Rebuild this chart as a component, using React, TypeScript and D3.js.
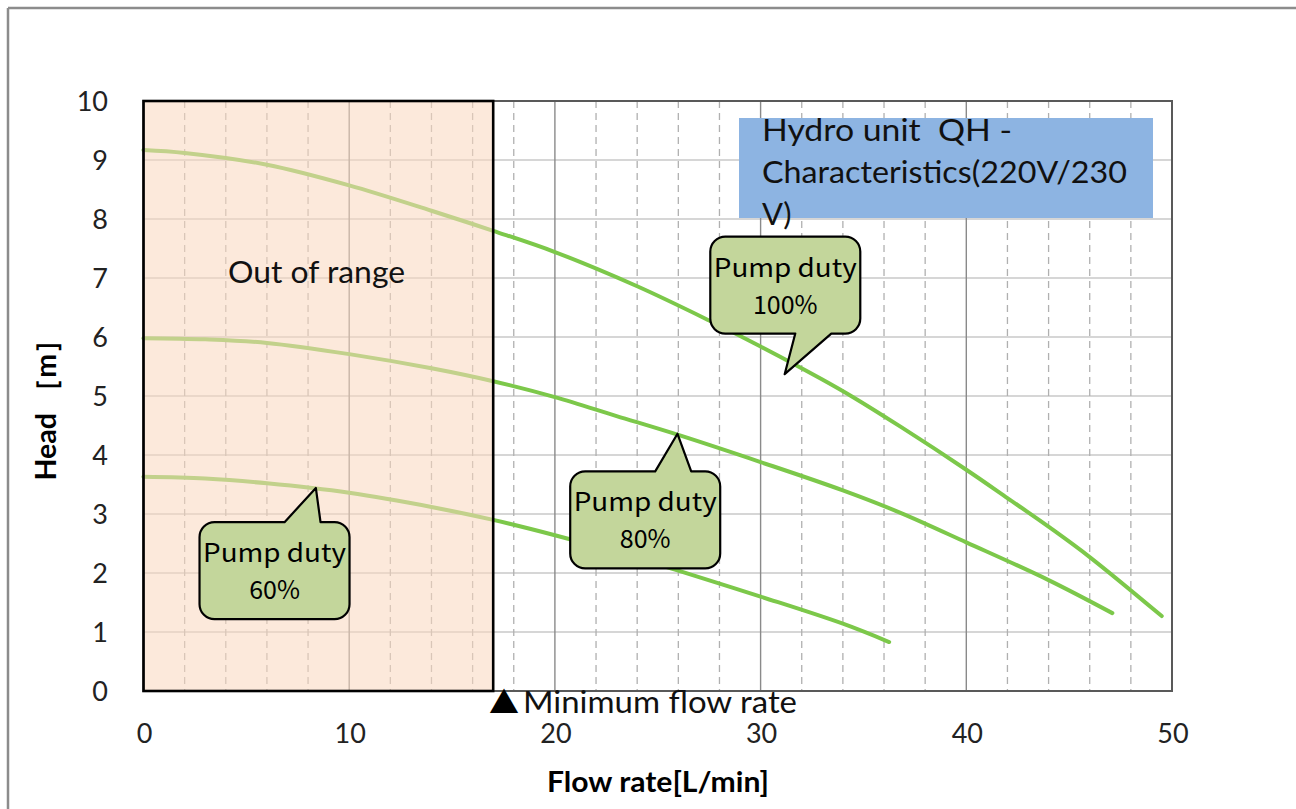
import React from "react";
import * as d3 from "d3";

// ---- data ----
const xTicks = [0, 10, 20, 30, 40, 50];
const yTicks = [0, 1, 2, 3, 4, 5, 6, 7, 8, 9, 10];

const flow100 = [0, 2, 6, 10, 14, 17, 20, 24, 27.5, 30, 33, 34.5, 36.8, 40, 42, 44.1, 46, 49.5];
const head100 = [9.17, 9.12, 8.92, 8.57, 8.14, 7.8, 7.44, 6.86, 6.28, 5.84, 5.28, 4.98, 4.48, 3.75, 3.27, 2.76, 2.27, 1.27];

const flow80 = [0, 3, 6, 10, 14, 17, 20, 23, 26, 30, 34, 36.8, 40, 44, 47.1];
const head80 = [5.98, 5.96, 5.9, 5.71, 5.47, 5.25, 4.98, 4.66, 4.34, 3.88, 3.4, 3.02, 2.52, 1.88, 1.32];

const flow60 = [0, 3, 6, 10, 14, 17, 20, 23, 26, 30, 34, 36.25];
const head60 = [3.63, 3.6, 3.52, 3.36, 3.12, 2.9, 2.64, 2.35, 2.04, 1.6, 1.14, 0.83];

const minFlow = 17;

const calloutLabels = ["100%", "80%", "60%"];
const calloutTipX = [31.17, 25.96, 8.38];
const calloutTipY = [5.37, 4.36, 3.44];
const calloutBoxX = [31.2, 24.39, 6.37];
const calloutBoxY = [6.88, 2.9, 2.04];

const titleLines = ["Hydro unit  QH -", "Characteristics(220V/230", "V)"];

// ---- layout ----
const W = 1296;
const H = 809;
const x = d3.scaleLinear().domain([0, 50]).range([143.5, 1172]);
const y = d3.scaleLinear().domain([0, 10]).range([691, 101]);

const LATIN = "Lato, 'Open Sans', sans-serif";
const CJK = "'Noto Sans CJK JP', 'Noto Sans', sans-serif";
const GREEN = "#7CC84A";

function calloutPath(x0: number, y0: number, x1: number, y1: number, r: number, side: "top" | "bottom", bx0: number, bx1: number, tx: number, ty: number) {
  let p = `M${x0 + r},${y0}`;
  if (side === "top") p += `L${bx0},${y0}L${tx},${ty}L${bx1},${y0}`;
  p += `L${x1 - r},${y0}A${r},${r} 0 0 1 ${x1},${y0 + r}`;
  p += `L${x1},${y1 - r}A${r},${r} 0 0 1 ${x1 - r},${y1}`;
  if (side === "bottom") p += `L${bx1},${y1}L${tx},${ty}L${bx0},${y1}`;
  p += `L${x0 + r},${y1}A${r},${r} 0 0 1 ${x0},${y1 - r}`;
  p += `L${x0},${y0 + r}A${r},${r} 0 0 1 ${x0 + r},${y0}Z`;
  return p;
}

export default function App() {
  const line = d3
    .line<[number, number]>()
    .x((d) => x(d[0]))
    .y((d) => y(d[1]))
    .curve(d3.curveCatmullRom.alpha(0.5));

  const series = [
    d3.zip(flow100, head100) as [number, number][],
    d3.zip(flow80, head80) as [number, number][],
    d3.zip(flow60, head60) as [number, number][],
  ];

  const minor = d3.range(2, 50, 2).filter((v) => v % 10 !== 0);
  const major = [10, 20, 30, 40];
  const hGrid = d3.range(1, 10);

  const [px0, px1] = x.range();
  const [py0, py1] = y.range(); // bottom, top

  const boxW = 150;
  const boxH = 97;

  return (
    <svg width={W} height={H} style={{ position: "absolute", left: 0, top: 0, background: "#fff" }}>
      <rect x={0} y={0} width={W} height={H} fill="#fff" />
      {/* outer frame */}
      <line x1={8} y1={8} x2={W} y2={8} stroke="#8c8c8c" strokeWidth={2.5} />
      <line x1={8} y1={8} x2={8} y2={H} stroke="#8c8c8c" strokeWidth={2.5} />

      {/* gridlines */}
      {hGrid.map((v) => (
        <line key={"h" + v} x1={px0} x2={px1} y1={y(v)} y2={y(v)} stroke="#c8c8c8" strokeWidth={1.6} />
      ))}
      {minor.map((v) => (
        <line key={"m" + v} x1={x(v)} x2={x(v)} y1={py1} y2={py0} stroke="#b0b0b0" strokeWidth={1.3} strokeDasharray="7,5" />
      ))}
      {major.map((v) => (
        <line key={"M" + v} x1={x(v)} x2={x(v)} y1={py1} y2={py0} stroke="#8a8a8a" strokeWidth={1.4} />
      ))}

      {/* curves */}
      {series.map((s, i) => (
        <path key={"s" + i} d={line(s) || ""} fill="none" stroke={GREEN} strokeWidth={4} strokeLinecap="round" />
      ))}

      {/* out of range overlay */}
      <rect x={x(0)} y={py1} width={x(minFlow) - x(0)} height={py0 - py1} fill="rgb(250,216,191)" fillOpacity={0.56} />

      {/* plot border */}
      <rect x={px0} y={py1} width={px1 - px0} height={py0 - py1} fill="none" stroke="#595959" strokeWidth={2} />
      <rect x={x(0)} y={py1} width={x(minFlow) - x(0)} height={py0 - py1} fill="none" stroke="#000" strokeWidth={2.6} />

      <text x={228} y={283} fontFamily={LATIN} fontSize={30} textLength={177} lengthAdjust="spacingAndGlyphs" fill="#111">
        Out of range
      </text>

      {/* title box */}
      <rect x={739} y={118} width={414} height={100} fill="#8DB4E2" />
      {titleLines.map((t, i) => (
        <text
          key={"t" + i}
          x={762}
          y={141 + i * 42}
          fontFamily={LATIN}
          fontSize={31}
          fill="#111"
          style={{ whiteSpace: "pre" }}
          {...(i === 0 ? { textLength: 250, lengthAdjust: "spacingAndGlyphs" } : {})}
          {...(i === 1 ? { textLength: 365, lengthAdjust: "spacingAndGlyphs" } : {})}
        >
          {t}
        </text>
      ))}

      {/* callouts */}
      {calloutLabels.map((lab, i) => {
        const cx = x(calloutBoxX[i]);
        const cy = y(calloutBoxY[i]);
        const tx = x(calloutTipX[i]);
        const ty = y(calloutTipY[i]);
        const x0 = cx - boxW / 2;
        const y0 = cy - boxH / 2;
        const side = ty < y0 ? "top" : "bottom";
        const bx0 = cx + 10;
        const bx1 = cx + 46;
        return (
          <g key={"c" + i}>
            <path
              d={calloutPath(x0, y0, x0 + boxW, y0 + boxH, 15, side, bx0, bx1, tx, ty)}
              fill="#C3D69B"
              stroke="#000"
              strokeWidth={2.2}
              strokeLinejoin="round"
            />
            <text x={cx} y={y0 + 40} textAnchor="middle" fontFamily={CJK} fontSize={25} fill="#000" textLength={143} lengthAdjust="spacingAndGlyphs">
              Pump duty
            </text>
            <text x={cx} y={y0 + 77} textAnchor="middle" fontFamily={CJK} fontSize={25} fill="#000">
              {lab}
            </text>
          </g>
        );
      })}

      {/* minimum flow marker */}
      <text x={489} y={713} fontFamily={CJK} fontSize={30} fill="#000">
        ▲
      </text>
      <text x={523} y={713} fontFamily={LATIN} fontSize={30} fill="#111" textLength={274} lengthAdjust="spacingAndGlyphs">
        Minimum flow rate
      </text>

      {/* tick labels */}
      {yTicks.map((v) => (
        <text key={"yt" + v} x={108} y={y(v) + 10} textAnchor="end" fontFamily={LATIN} fontSize={27} fill="#222">
          {v}
        </text>
      ))}
      {xTicks.map((v) => (
        <text key={"xt" + v} x={x(v) + 1} y={743} textAnchor="middle" fontFamily={LATIN} fontSize={27} fill="#222">
          {v}
        </text>
      ))}

      {/* axis titles */}
      <text x={658} y={792} textAnchor="middle" fontFamily={LATIN} fontWeight="bold" fontSize={28} fill="#000" textLength={222} lengthAdjust="spacingAndGlyphs">
        Flow rate[L/min]
      </text>
      <text
        transform="translate(56,403) rotate(-90)"
        textAnchor="middle"
        fontFamily={LATIN}
        fontWeight="bold"
        fontSize={28}
        fill="#000"
        textLength={155}
        lengthAdjust="spacingAndGlyphs"
      >
        Head ［m］
      </text>
    </svg>
  );
}
